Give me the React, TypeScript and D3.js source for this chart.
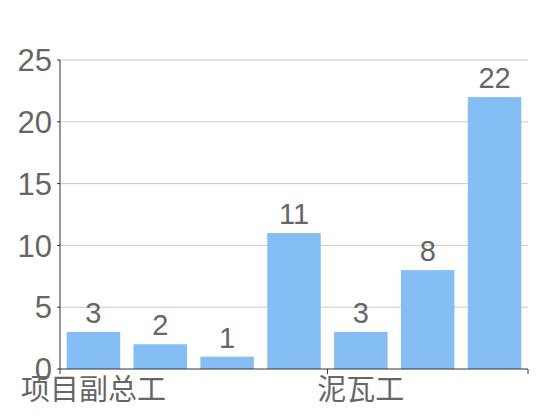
import React from "react";
import * as d3 from "d3";

// categories (only every 4th label is visible in the chart)
const categories: string[] = ["项目副总工", "工种2", "工种3", "工种4", "泥瓦工", "工种6", "工种7"];
const values: number[] = [3, 2, 1, 11, 3, 8, 22];
const yTicks: number[] = [0, 5, 10, 15, 20, 25];
const labelInterval = 4;

const WIDTH = 550;
const HEIGHT = 420;
const margin = { left: 60, right: 22, top: 60, bottom: 51 };
const font = "'Liberation Sans', 'Noto Sans CJK SC', sans-serif";
const barColor = "#85bdf5";
const textColor = "#666";

export default function App() {
    const x = d3.scaleBand<string>()
        .domain(categories)
        .range([margin.left, WIDTH - margin.right])
        .paddingInner(0.2)
        .paddingOuter(0.1);
    const step = x.step();
    const x0 = margin.left;
    const y = d3.scaleLinear()
        .domain([0, 25])
        .range([HEIGHT - margin.bottom, margin.top]);
    const baseY = y(0);
    const xEnd = WIDTH - margin.right;

    // tick boundaries: at labelled categories' left edge and the axis end
    const tickXs = categories
        .map((_, i) => i)
        .filter(i => i % labelInterval === 0)
        .map(i => x0 + i * step);
    tickXs.push(xEnd);

    return (
        <svg width={WIDTH} height={HEIGHT} style={{ display: "block", position: "absolute", left: 0, top: 0 }}
             fontFamily={font}>
            {yTicks.map(t => (
                <g key={t}>
                    {t > 0 && (
                        <line x1={x0} x2={xEnd} y1={y(t)} y2={y(t)} stroke="#ccc" strokeWidth={1} />
                    )}
                    <line x1={x0 - 3} x2={x0} y1={y(t)} y2={y(t)} stroke="#333" strokeWidth={1} />
                    <text x={x0 - 8} y={y(t)} dy="0.36em" textAnchor="end" fontSize={31} fill={textColor}>
                        {t}
                    </text>
                </g>
            ))}
            {values.map((v, i) => {
                const bx = x(categories[i])!;
                const bw = x.bandwidth();
                return (
                    <g key={i}>
                        <rect x={bx} y={y(v)} width={bw} height={baseY - y(v)} fill={barColor} />
                        <text x={bx + bw / 2} y={y(v) - 9} textAnchor="middle" fontSize={29} fill={textColor}>
                            {v}
                        </text>
                    </g>
                );
            })}
            <line x1={x0} x2={x0} y1={margin.top} y2={baseY} stroke="#333" strokeWidth={1} />
            <line x1={x0} x2={xEnd} y1={baseY} y2={baseY} stroke="#333" strokeWidth={1} />
            {tickXs.map((tx, i) => (
                <line key={i} x1={tx} x2={tx} y1={baseY} y2={baseY + 5} stroke="#333" strokeWidth={1} />
            ))}
            {categories.map((c, i) => i % labelInterval === 0 && (
                <text key={c} x={x(c)! + x.bandwidth() / 2} y={baseY + 31} textAnchor="middle"
                      fontSize={29} fill={textColor}>
                    {c}
                </text>
            ))}
        </svg>
    );
}
